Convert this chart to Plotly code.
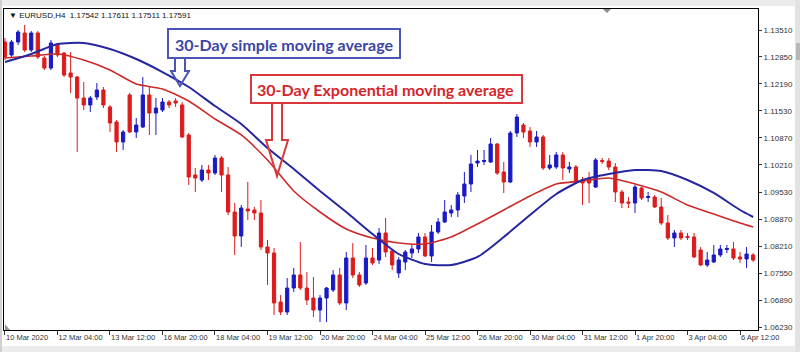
import plotly.graph_objects as go

# ---------------- data (EURUSD H4) ----------------
candle_open = [
    1.13216, 1.12898, 1.13216, 1.13437, 1.13020, 1.13437, 1.12824, 1.12579, 1.13143, 1.12947,
    1.12457, 1.12359, 1.11844, 1.11673, 1.11869, 1.12040, 1.11624, 1.11256, 1.10766, 1.11918,
    1.11011, 1.11134, 1.11918, 1.11477, 1.11550, 1.11746, 1.11771, 1.11673, 1.10938, 1.09958,
    1.09835, 1.10080, 1.10006, 1.10374, 1.09958, 1.09051, 1.08463, 1.09125, 1.09100, 1.09027,
    1.08194, 1.08047, 1.06846, 1.06601, 1.07189, 1.07508, 1.07189, 1.06944, 1.06650, 1.06944,
    1.07140, 1.07508, 1.06822, 1.07924, 1.07508, 1.07312, 1.07924, 1.07875, 1.08537, 1.08096,
    1.07557, 1.07826, 1.08047, 1.08145, 1.08439, 1.07973, 1.08561, 1.08806, 1.09027, 1.09100,
    1.09443, 1.09737, 1.10252, 1.10288, 1.10276, 1.10717, 1.10031, 1.09786, 1.10987, 1.11183,
    1.11036, 1.10766, 1.10889, 1.10129, 1.10154, 1.10448, 1.10105, 1.10154, 1.09835, 1.09884,
    1.09663, 1.10313, 1.10300, 1.10154, 1.09541, 1.09296, 1.09272, 1.09639, 1.09407, 1.09419,
    1.09174, 1.08782, 1.08414, 1.08537, 1.08451, 1.08439, 1.08120, 1.07753, 1.07826, 1.07998,
    1.08133, 1.08145, 1.07949, 1.07900, 1.07998,
]
candle_high = [
    1.13314, 1.13265, 1.13510, 1.13633, 1.13486, 1.13486, 1.12873, 1.13265, 1.13192, 1.12971,
    1.12971, 1.12383, 1.12236, 1.11893, 1.12212, 1.12114, 1.11673, 1.11305, 1.11060, 1.11967,
    1.11354, 1.12359, 1.12114, 1.11844, 1.11844, 1.11795, 1.11844, 1.11746, 1.10987, 1.10129,
    1.10203, 1.10203, 1.10448, 1.10423, 1.10154, 1.09272, 1.09223, 1.09786, 1.09174, 1.09345,
    1.08365, 1.08169, 1.07018, 1.07434, 1.07679, 1.08316, 1.07581, 1.07459, 1.07018, 1.07214,
    1.07630, 1.07679, 1.08071, 1.08292, 1.07581, 1.08243, 1.08169, 1.08659, 1.08904, 1.08145,
    1.07949, 1.08120, 1.08243, 1.08537, 1.08537, 1.08733, 1.08904, 1.09345, 1.09223, 1.09541,
    1.10031, 1.10448, 1.10570, 1.10570, 1.10864, 1.10742, 1.10276, 1.11036, 1.11452, 1.11232,
    1.11134, 1.11036, 1.10938, 1.10448, 1.10521, 1.10521, 1.10276, 1.10203, 1.09909, 1.10031,
    1.10374, 1.10374, 1.10374, 1.10252, 1.09590, 1.09419, 1.09712, 1.09663, 1.09541, 1.09468,
    1.09394, 1.08978, 1.08610, 1.08610, 1.08537, 1.08537, 1.08194, 1.08071, 1.08243, 1.08243,
    1.08243, 1.08316, 1.08071, 1.08194, 1.08047,
]
candle_low = [
    1.12775, 1.12849, 1.13143, 1.12971, 1.12971, 1.12800, 1.12530, 1.12530, 1.12849, 1.12359,
    1.11967, 1.10521, 1.11550, 1.11501, 1.11795, 1.11599, 1.11011, 1.10521, 1.10570, 1.10987,
    1.10864, 1.11109, 1.10938, 1.10938, 1.11501, 1.11599, 1.11624, 1.10864, 1.09712, 1.09541,
    1.09786, 1.09835, 1.09958, 1.09541, 1.08978, 1.07998, 1.08194, 1.08855, 1.08855, 1.08120,
    1.07263, 1.06528, 1.06528, 1.06528, 1.07091, 1.07140, 1.06773, 1.06479, 1.06355, 1.06355,
    1.07091, 1.06773, 1.06650, 1.07434, 1.07214, 1.07263, 1.07753, 1.07777, 1.07949, 1.07630,
    1.07434, 1.07630, 1.07924, 1.08047, 1.07949, 1.07826, 1.08512, 1.08782, 1.08929, 1.08929,
    1.09272, 1.09541, 1.10154, 1.10203, 1.10252, 1.09958, 1.09517, 1.09761, 1.10889, 1.10864,
    1.10644, 1.10644, 1.10080, 1.10080, 1.10105, 1.09835, 1.10006, 1.09737, 1.09223, 1.09272,
    1.09639, 1.10227, 1.10080, 1.09296, 1.09149, 1.09149, 1.09027, 1.09345, 1.09296, 1.09149,
    1.08733, 1.08365, 1.08194, 1.08365, 1.08365, 1.07924, 1.07728, 1.07704, 1.07802, 1.07949,
    1.08047, 1.07875, 1.07802, 1.07679, 1.07826,
]
candle_close = [
    1.12849, 1.13216, 1.13461, 1.13020, 1.13437, 1.12849, 1.12579, 1.13192, 1.12898, 1.12408,
    1.12359, 1.11844, 1.11673, 1.11844, 1.12040, 1.11673, 1.11232, 1.10766, 1.11011, 1.11011,
    1.11183, 1.11918, 1.11477, 1.11599, 1.11746, 1.11673, 1.11722, 1.10889, 1.09909, 1.09884,
    1.10080, 1.10006, 1.10374, 1.09958, 1.09051, 1.08463, 1.09149, 1.09076, 1.09027, 1.08194,
    1.08047, 1.06822, 1.06601, 1.07189, 1.07508, 1.07189, 1.06895, 1.06650, 1.06944, 1.07189,
    1.07508, 1.06822, 1.07924, 1.07508, 1.07263, 1.07924, 1.07802, 1.08537, 1.08071, 1.07753,
    1.07875, 1.08071, 1.08145, 1.08439, 1.07973, 1.08561, 1.08806, 1.09051, 1.09100, 1.09468,
    1.09737, 1.10227, 1.10300, 1.10313, 1.10717, 1.10006, 1.09786, 1.10987, 1.11379, 1.11011,
    1.10766, 1.10889, 1.10129, 1.10203, 1.10448, 1.10129, 1.10154, 1.09786, 1.09761, 1.09761,
    1.10325, 1.10288, 1.10154, 1.09541, 1.09272, 1.09272, 1.09663, 1.09394, 1.09431, 1.09174,
    1.08782, 1.08414, 1.08537, 1.08414, 1.08427, 1.07949, 1.07753, 1.07875, 1.07998, 1.08145,
    1.08157, 1.07924, 1.07900, 1.08022, 1.07875,
]

ma_index = [0, 4, 8, 12, 16, 20, 24, 28, 32, 36, 40, 44, 48, 52, 56, 60, 64, 68, 72, 76,
            80, 84, 88, 92, 96, 100, 104, 108, 112, 114]
sma30 = [1.12726, 1.12922, 1.13167, 1.13192, 1.13045, 1.12800, 1.12481, 1.12114, 1.11648, 1.11207,
         1.10619, 1.10105, 1.09566, 1.09051, 1.08512, 1.08022, 1.07777, 1.07753, 1.07949, 1.08439,
         1.08978, 1.09492, 1.09835, 1.09982, 1.10080, 1.10056, 1.09835, 1.09517, 1.09100, 1.08929]
ema30 = [1.12824, 1.12873, 1.12922, 1.12775, 1.12530, 1.12187, 1.12065, 1.11771, 1.11330, 1.10938,
         1.10325, 1.09566, 1.09051, 1.08635, 1.08414, 1.08292, 1.08267, 1.08439, 1.08757, 1.09100,
         1.09443, 1.09737, 1.09810, 1.09884, 1.09737, 1.09541, 1.09223, 1.09002, 1.08782, 1.08684]

x_tick_index = [0, 8, 16, 24, 32, 40, 48, 56, 64, 72, 80, 88, 96, 104, 112]
x_tick_labels = ["10 Mar 2020", "12 Mar 04:00", "13 Mar 12:00", "16 Mar 20:00", "18 Mar 04:00",
                 "19 Mar 12:00", "20 Mar 20:00", "24 Mar 04:00", "25 Mar 12:00", "26 Mar 20:00",
                 "30 Mar 04:00", "31 Mar 12:00", "1 Apr 20:00", "3 Apr 04:00", "6 Apr 12:00"]
y_tick_vals = [1.13510, 1.12850, 1.12190, 1.11530, 1.10870, 1.10210,
               1.09530, 1.08870, 1.08210, 1.07550, 1.06890, 1.06230]
y_tick_text = ["1.13510", "1.12850", "1.12190", "1.11530", "1.10870", "1.10210",
               "1.09530", "1.08870", "1.08210", "1.07550", "1.06890", "1.06230"]

header_text = "\u25bc EURUSD,H4  1.17542 1.17611 1.17511 1.17591"
sma_label = "30-Day simple moving average"
ema_label = "30-Day Exponential moving average"

# ---------------- styling ----------------
BULL = "#1a1ac4"
BEAR = "#dc1c1c"
SMA_COL = "#2626a0"
EMA_COL = "#cc2a2a"

W, H = 800, 352
PL, PR, PT, PB = 4, 758, 9, 330  # plot area in pixels


def px(x):
    return (x - PL) / (PR - PL)


def py(y):
    return (PB - y) / (PB - PT)


def path(points):
    return "M " + " L ".join(f"{px(a):.5f},{py(b):.5f}" for a, b in points) + " Z"


N = len(candle_open)
xs = list(range(N))

fig = go.Figure()
fig.add_trace(go.Candlestick(
    x=xs, open=candle_open, high=candle_high, low=candle_low, close=candle_close,
    increasing=dict(line=dict(color=BULL, width=1), fillcolor=BULL),
    decreasing=dict(line=dict(color=BEAR, width=1), fillcolor=BEAR),
    whiskerwidth=0, hoverinfo="skip", showlegend=False,
))
fig.add_trace(go.Scatter(x=ma_index, y=ema30, mode="lines", line=dict(color=EMA_COL, width=1.6, shape="spline", smoothing=0.6),
                         hoverinfo="skip", showlegend=False))
fig.add_trace(go.Scatter(x=ma_index, y=sma30, mode="lines", line=dict(color=SMA_COL, width=2, shape="spline", smoothing=0.6),
                         hoverinfo="skip", showlegend=False))

shapes = []
# window chrome
shapes.append(dict(type="rect", xref="paper", yref="paper", x0=px(0), x1=px(800), y0=py(0), y1=py(6),
                   fillcolor="#ececec", line=dict(width=0), layer="below"))
shapes.append(dict(type="rect", xref="paper", yref="paper", x0=px(0), x1=px(800), y0=py(346), y1=py(352),
                   fillcolor="#ececec", line=dict(width=0), layer="below"))
shapes.append(dict(type="rect", xref="paper", yref="paper", x0=px(795), x1=px(800), y0=py(0), y1=py(352),
                   fillcolor="#e2e2e2", line=dict(width=0), layer="below"))
shapes.append(dict(type="rect", xref="paper", yref="paper", x0=px(796), x1=px(800), y0=py(43), y1=py(60),
                   fillcolor="#b8b8b8", line=dict(width=0), layer="below"))
shapes.append(dict(type="rect", xref="paper", yref="paper", x0=px(0), x1=px(2), y0=py(0), y1=py(352),
                   fillcolor="#d0d0d0", line=dict(width=0), layer="below"))
# shift marker & corner marker
shapes.append(dict(type="path", xref="paper", yref="paper", path=path([(603, 9), (611, 9), (607, 13)]),
                   fillcolor="#8a8a8a", line=dict(width=0)))
shapes.append(dict(type="path", xref="paper", yref="paper", path=path([(5, 324), (5, 330), (10, 330)]),
                   fillcolor="#9a9a9a", line=dict(width=0)))
# callout boxes
shapes.append(dict(type="rect", xref="paper", yref="paper", x0=px(168), x1=px(400), y0=py(29), y1=py(58),
                   fillcolor="white", line=dict(color="#4a55b5", width=2), layer="above"))
shapes.append(dict(type="path", xref="paper", yref="paper",
                   path=path([(175, 58), (175, 71), (171, 71), (180, 86), (189, 71), (185, 71), (185, 58)]),
                   fillcolor="rgba(0,0,0,0)", line=dict(color="#4a55b5", width=2), layer="above"))
shapes.append(dict(type="rect", xref="paper", yref="paper", x0=px(251), x1=px(522), y0=py(75), y1=py(103),
                   fillcolor="white", line=dict(color="#d9383c", width=2), layer="above"))
shapes.append(dict(type="path", xref="paper", yref="paper",
                   path=path([(272, 103), (272, 140), (266, 140), (277, 176), (288, 140), (282, 140), (282, 103)]),
                   fillcolor="rgba(0,0,0,0)", line=dict(color="#d9383c", width=2), layer="above"))

annotations = [
    dict(text=header_text, xref="paper", yref="paper", x=px(7), y=py(15), xanchor="left", yanchor="middle",
         showarrow=False, font=dict(family="Liberation Sans", size=8, color="#111")),
    dict(text=f"<b>{sma_label}</b>", xref="paper", yref="paper", x=px(284), y=py(44),
         xanchor="center", yanchor="middle", showarrow=False,
         font=dict(family="Lato", size=16, color="#3b45a5")),
    dict(text=f"<b>{ema_label}</b>", xref="paper", yref="paper", x=px(386), y=py(89),
         xanchor="center", yanchor="middle", showarrow=False,
         font=dict(family="Lato", size=16, color="#d3262b")),
]

fig.update_layout(
    width=W, height=H,
    margin=dict(l=PL, r=W - PR, t=PT, b=H - PB),
    paper_bgcolor="white", plot_bgcolor="white",
    shapes=shapes, annotations=annotations,
    showlegend=False, hovermode=False,
    xaxis=dict(range=[-0.15, 114.74], showgrid=False, zeroline=False,
               showline=True, linecolor="#000", linewidth=1, mirror=True,
               tickvals=x_tick_index, ticktext=x_tick_labels, ticks="outside", ticklen=4,
               tickcolor="#333", ticklabelposition="outside right", tickangle=0,
               tickfont=dict(family="Liberation Sans", size=7.5, color="#333"),
               rangeslider=dict(visible=False), fixedrange=True),
    yaxis=dict(range=[1.06160, 1.14025], side="right", showgrid=False, zeroline=False,
               showline=True, linecolor="#000", linewidth=1, mirror=True,
               tickvals=y_tick_vals, ticktext=y_tick_text, ticks="outside", ticklen=3,
               tickcolor="#333", tickfont=dict(family="Liberation Sans", size=8, color="#333"),
               fixedrange=True),
)

fig.write_html("out.html", config={"displayModeBar": False})
